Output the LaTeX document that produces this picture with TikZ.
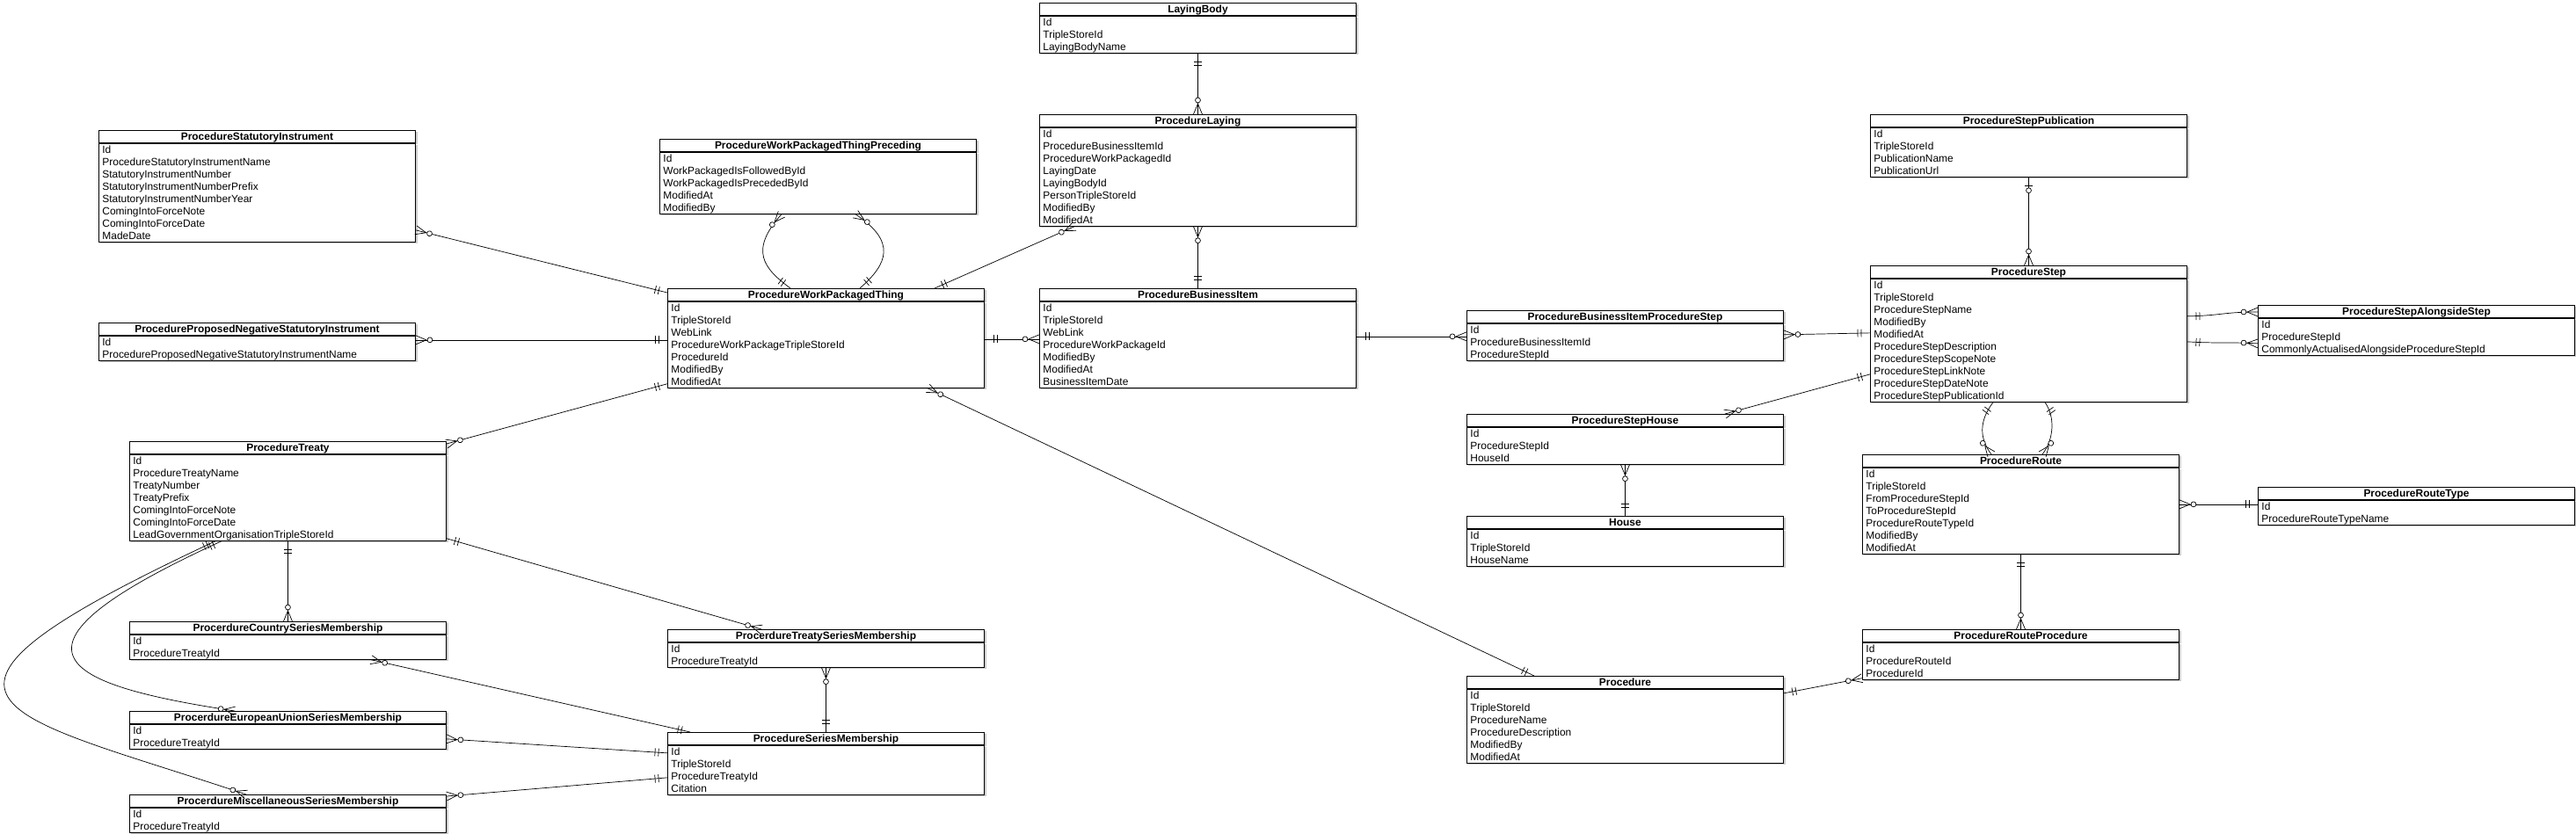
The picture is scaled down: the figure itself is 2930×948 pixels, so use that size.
\documentclass[tikz,border=0pt]{standalone}
\usepackage{fontspec}
\setmainfont{Liberation Sans}
\usetikzlibrary{positioning,calc,shadows,decorations.markings}
\newcommand\erstrut{\rule[-2.2pt]{0pt}{9.96pt}}
\tikzset{
    one start/.style={postaction={decorate,decoration={markings,mark=at position 0 with {\draw (10,-4.5) -- (10,4.5) (14,-4.5) -- (14,4.5);}}}},
    zone start/.style={postaction={decorate,decoration={markings,mark=at position 0 with {\draw (10,-4.5) -- (10,4.5); \draw[fill=white] (15,0) circle[radius=2.1pt];}}}},
    many end/.style={postaction={decorate,decoration={markings,mark=at position 0.9999 with {\draw (-12,0) -- (0,-5) (-12,0) -- (0,5); \draw[fill=white] (-16,0) circle[radius=2.1pt];}}}}
}

\begin{document}
\begin{tikzpicture}[
  x=0.025cm, y=-0.025cm,
  font=\fontsize{8.5}{9.96}\selectfont,
  entityhead/.style={draw, fill=white, line width=0.6pt, anchor=north west, minimum width=9cm, minimum height=0.35cm, inner sep=0pt, font=\fontsize{8.5}{9.96}\selectfont\bfseries, execute at begin node=\erstrut, drop shadow={shadow xshift=0.05cm, shadow yshift=-0.05cm, fill=black!50, opacity=0.4}},
  entitybody/.style={draw, fill=white, line width=0.6pt, text width=8.8cm, inner xsep=0.1cm, inner ysep=0pt, align=left, execute at begin node=\erstrut, execute at end node=\erstrut, drop shadow={shadow xshift=0.05cm, shadow yshift=-0.05cm, fill=black!50, opacity=0.4}},
  relation/.style={line width=0.5pt}
]
  \useasboundingbox (0,0) rectangle (2930,948);

  % Work packages and laying
  \node[entityhead] (lb-h) at (1182,3) {LayingBody};
  \node[entitybody, below=0pt of lb-h] (lb) {Id\\TripleStoreId\\LayingBodyName};
  \node[entityhead] (pl-h) at (1182,130) {ProcedureLaying};
  \node[entitybody, below=0pt of pl-h] (pl) {Id\\ProcedureBusinessItemId\\ProcedureWorkPackagedId\\LayingDate\\LayingBodyId\\PersonTripleStoreId\\ModifiedBy\\ModifiedAt};
  \node[entityhead] (psi-h) at (112,148) {ProcedureStatutoryInstrument};
  \node[entitybody, below=0pt of psi-h] (psi) {Id\\ProcedureStatutoryInstrumentName\\StatutoryInstrumentNumber\\StatutoryInstrumentNumberPrefix\\StatutoryInstrumentNumberYear\\ComingIntoForceNote\\ComingIntoForceDate\\MadeDate};
  \node[entityhead] (ppnsi-h) at (112,367) {ProcedureProposedNegativeStatutoryInstrument};
  \node[entitybody, below=0pt of ppnsi-h] (ppnsi) {Id\\ProcedureProposedNegativeStatutoryInstrumentName};
  \node[entityhead] (pwptp-h) at (750,158) {ProcedureWorkPackagedThingPreceding};
  \node[entitybody, below=0pt of pwptp-h] (pwptp) {Id\\WorkPackagedIsFollowedById\\WorkPackagedIsPrecededById\\ModifiedAt\\ModifiedBy};
  \node[entityhead] (pwpt-h) at (759,328) {ProcedureWorkPackagedThing};
  \node[entitybody, below=0pt of pwpt-h] (pwpt) {Id\\TripleStoreId\\WebLink\\ProcedureWorkPackageTripleStoreId\\ProcedureId\\ModifiedBy\\ModifiedAt};
  \node[entityhead] (pbi-h) at (1182,328) {ProcedureBusinessItem};
  \node[entitybody, below=0pt of pbi-h] (pbi) {Id\\TripleStoreId\\WebLink\\ProcedureWorkPackageId\\ModifiedBy\\ModifiedAt\\BusinessItemDate};

  % Steps, houses and routes
  \node[entityhead] (pbips-h) at (1668,353) {ProcedureBusinessItemProcedureStep};
  \node[entitybody, below=0pt of pbips-h] (pbips) {Id\\ProcedureBusinessItemId\\ProcedureStepId};
  \node[entityhead] (psp-h) at (2127,130) {ProcedureStepPublication};
  \node[entitybody, below=0pt of psp-h] (psp) {Id\\TripleStoreId\\PublicationName\\PublicationUrl};
  \node[entityhead] (ps-h) at (2127,302) {ProcedureStep};
  \node[entitybody, below=0pt of ps-h] (ps) {Id\\TripleStoreId\\ProcedureStepName\\ModifiedBy\\ModifiedAt\\ProcedureStepDescription\\ProcedureStepScopeNote\\ProcedureStepLinkNote\\ProcedureStepDateNote\\ProcedureStepPublicationId};
  \node[entityhead] (psas-h) at (2568,347) {ProcedureStepAlongsideStep};
  \node[entitybody, below=0pt of psas-h] (psas) {Id\\ProcedureStepId\\CommonlyActualisedAlongsideProcedureStepId};
  \node[entityhead] (psh-h) at (1668,471) {ProcedureStepHouse};
  \node[entitybody, below=0pt of psh-h] (psh) {Id\\ProcedureStepId\\HouseId};
  \node[entityhead] (house-h) at (1668,587) {House};
  \node[entitybody, below=0pt of house-h] (house) {Id\\TripleStoreId\\HouseName};
  \node[entityhead] (pr-h) at (2118,517) {ProcedureRoute};
  \node[entitybody, below=0pt of pr-h] (pr) {Id\\TripleStoreId\\FromProcedureStepId\\ToProcedureStepId\\ProcedureRouteTypeId\\ModifiedBy\\ModifiedAt};
  \node[entityhead] (prt-h) at (2568,554) {ProcedureRouteType};
  \node[entitybody, below=0pt of prt-h] (prt) {Id\\ProcedureRouteTypeName};
  \node[entityhead] (prp-h) at (2118,716) {ProcedureRouteProcedure};
  \node[entitybody, below=0pt of prp-h] (prp) {Id\\ProcedureRouteId\\ProcedureId};
  \node[entityhead] (proc-h) at (1668,769) {Procedure};
  \node[entitybody, below=0pt of proc-h] (proc) {Id\\TripleStoreId\\ProcedureName\\ProcedureDescription\\ModifiedBy\\ModifiedAt};

  % Treaties and series memberships
  \node[entityhead] (pt-h) at (147,502) {ProcedureTreaty};
  \node[entitybody, below=0pt of pt-h] (pt) {Id\\ProcedureTreatyName\\TreatyNumber\\TreatyPrefix\\ComingIntoForceNote\\ComingIntoForceDate\\LeadGovernmentOrganisationTripleStoreId};
  \node[entityhead] (pcsm-h) at (147,707) {ProcerdureCountrySeriesMembership};
  \node[entitybody, below=0pt of pcsm-h] (pcsm) {Id\\ProcedureTreatyId};
  \node[entityhead] (peusm-h) at (147,809) {ProcerdureEuropeanUnionSeriesMembership};
  \node[entitybody, below=0pt of peusm-h] (peusm) {Id\\ProcedureTreatyId};
  \node[entityhead] (pmsm-h) at (147,904) {ProcerdureMiscellaneousSeriesMembership};
  \node[entitybody, below=0pt of pmsm-h] (pmsm) {Id\\ProcedureTreatyId};
  \node[entityhead] (ptsm-h) at (759,716) {ProcerdureTreatySeriesMembership};
  \node[entitybody, below=0pt of ptsm-h] (ptsm) {Id\\ProcedureTreatyId};
  \node[entityhead] (psm-h) at (759,833) {ProcedureSeriesMembership};
  \node[entitybody, below=0pt of psm-h] (psm) {Id\\TripleStoreId\\ProcedureTreatyId\\Citation};

  % Relations round the work packaged thing
  \draw[relation, one start, many end] ($(pwpt-h.north west)+(0,5)$) -- ($(psi.north east)+(0,99)$);
  \draw[relation, one start, many end] ($(pwpt.north west)+(0,44)$) -- ($(ppnsi.north east)+(0,5)$);
  \draw[relation, one start, many end] ($(pwpt.south west)+(0,-5)$) -- ($(pt-h.north east)+(0,3)$);
  \draw[relation, one start, many end] ($(pwpt-h.north west)+(140,0)$) .. controls (868,305) and (852,285) .. ($(pwptp.south west)+(139,0)$);
  \draw[relation, one start, many end] ($(pwpt-h.north west)+(219,0)$) .. controls (1010,300) and (1020,275) .. ($(pwptp.south west)+(223,0)$);
  \draw[relation, one start, many end] ($(pwpt-h.north west)+(304,0)$) -- ($(pl.south west)+(40,0)$);
  \draw[relation, one start, many end] (lb.south) -- (pl-h.north);
  \draw[relation, one start, many end] (pbi-h.north) -- (pl.south);
  \draw[relation, one start, many end] ($(pwpt.north east)+(0,43)$) -- ($(pbi.north west)+(0,43)$);
  \draw[relation, one start, many end] ($(pbi.north east)+(0,40)$) -- ($(pbips.north west)+(0,15)$);
  \draw[relation, one start, many end] ($(proc-h.north west)+(77,0)$) -- ($(pwpt.south west)+(296,0)$);

  % Relations round the procedure step
  \draw[relation, one start, many end] ($(ps.north west)+(0,62)$) -- ($(pbips.north east)+(0,13)$);
  \draw[relation, one start, many end] ($(ps.north west)+(0,109)$) -- ($(psh-h.north west)+(294,0)$);
  \draw[relation, zone start, many end] (psp.south) -- (ps-h.north);
  \draw[relation, one start, many end] ($(ps.north east)+(0,43)$) .. controls (2528,359) and (2528,355) .. ($(psas-h.north west)+(0,8)$);
  \draw[relation, one start, many end] ($(ps.north east)+(0,72)$) .. controls (2525,391) and (2530,389) .. ($(psas.north west)+(0,29)$);
  \draw[relation, one start, many end] ($(ps.south west)+(140,0)$) .. controls (2250,480) and (2252,500) .. ($(pr-h.north west)+(147,0)$);
  \draw[relation, one start, many end] ($(ps.south west)+(199,0)$) .. controls (2338,475) and (2336,500) .. ($(pr-h.north west)+(205,0)$);
  \draw[relation, one start, many end] ($(prt.north west)+(0,5)$) -- ($(pr.north east)+(0,42)$);
  \draw[relation, one start, many end] (pr.south) -- (prp-h.north);
  \draw[relation, one start, many end] ($(proc.north east)+(0,5)$) -- ($(prp.south west)+(0,-2)$);
  \draw[relation, one start, many end] (house-h.north) -- (psh.south);

  % Relations round the treaty
  \draw[relation, one start, many end] (pt.south) -- (pcsm-h.north);
  \draw[relation, one start, many end] ($(pt.south east)+(0,-3)$) -- ($(ptsm-h.north west)+(107,0)$);
  \draw[relation, one start, many end] ($(pt.south west)+(105,0)$) .. controls (-20,740) and (70,779) .. ($(peusm-h.north west)+(120,0)$);
  \draw[relation, one start, many end] ($(pt.south west)+(98,0)$) .. controls (-150,800) and (0,810) .. ($(pmsm-h.north west)+(133,0)$);
  \draw[relation, one start, many end] ($(psm-h.north west)+(26,0)$) -- ($(pcsm.south west)+(275,0)$);
  \draw[relation, one start, many end] ($(psm.north west)+(0,9)$) -- ($(peusm.north east)+(0,17)$);
  \draw[relation, one start, many end] ($(psm.north west)+(0,37)$) -- ($(pmsm-h.north east)+(0,2)$);
  \draw[relation, one start, many end] (psm-h.north) -- (ptsm.south);
\end{tikzpicture}
\end{document}
